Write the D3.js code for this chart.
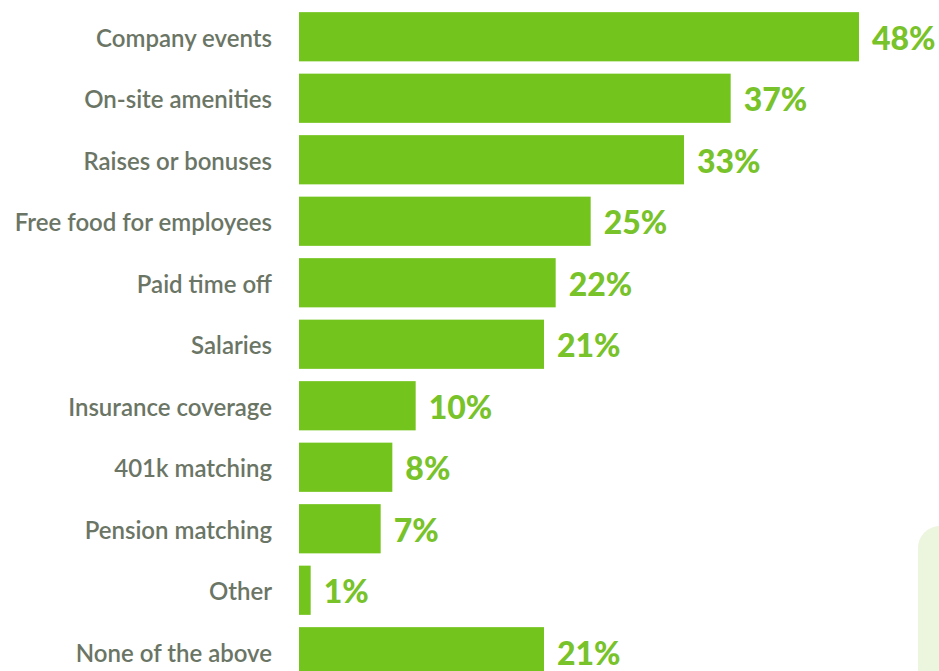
<!DOCTYPE html>
<html>
<head>
<meta charset="utf-8">
<script src="https://cdn.jsdelivr.net/npm/d3@7"></script>
<style>
  html, body { margin: 0; padding: 0; background: #fff; overflow: hidden; }
  svg { display: block; }
</style>
</head>
<body>
<svg id="chart" width="939" height="671"></svg>
<script>
// Perks and benefits, share of respondents (%)
const categories = [
  "Company events",
  "On-site amenities",
  "Raises or bonuses",
  "Free food for employees",
  "Paid time off",
  "Salaries",
  "Insurance coverage",
  "401k matching",
  "Pension matching",
  "Other",
  "None of the above"
];
const values = [48, 37, 33, 25, 22, 21, 10, 8, 7, 1, 21];

const svg = d3.select("#chart");

// decorative pale panel at lower right
svg.append("rect")
  .attr("x", 918).attr("y", 526)
  .attr("width", 60).attr("height", 200)
  .attr("rx", 22).attr("ry", 22)
  .attr("fill", "#ecf5dd");

const x = d3.scaleLinear().domain([0, 48]).range([299, 859]);
const y = d3.scaleBand().domain(categories)
  .range([0, 61.5 * categories.length])
  .paddingInner(0.2).paddingOuter(0.1);

const rows = svg.append("g").attr("transform", "translate(0,6)");

rows.selectAll("rect.bar")
  .data(categories)
  .join("rect")
  .attr("class", "bar")
  .attr("x", x(0))
  .attr("y", d => y(d))
  .attr("width", (d, i) => x(values[i]) - x(0))
  .attr("height", y.bandwidth())
  .attr("fill", "#73c41d");

rows.selectAll("text.cat")
  .data(categories)
  .join("text")
  .attr("class", "cat")
  .attr("x", 272)
  .attr("y", d => y(d) + y.bandwidth() / 2)
  .attr("dy", "0.42em")
  .attr("text-anchor", "end")
  .attr("font-family", "Lato, sans-serif")
  .attr("font-weight", 600)
  .attr("font-size", 24)
  .attr("fill", "#6b7565")
  .text(d => d);

rows.selectAll("text.val")
  .data(categories)
  .join("text")
  .attr("class", "val")
  .attr("x", (d, i) => x(values[i]) + 13)
  .attr("y", d => y(d) + y.bandwidth() / 2)
  .attr("dy", "0.4em")
  .attr("font-family", "Lato, sans-serif")
  .attr("font-weight", 900)
  .attr("font-size", 32)
  .attr("fill", "#78c22a")
  .text((d, i) => values[i] + "%");
</script>
</body>
</html>
